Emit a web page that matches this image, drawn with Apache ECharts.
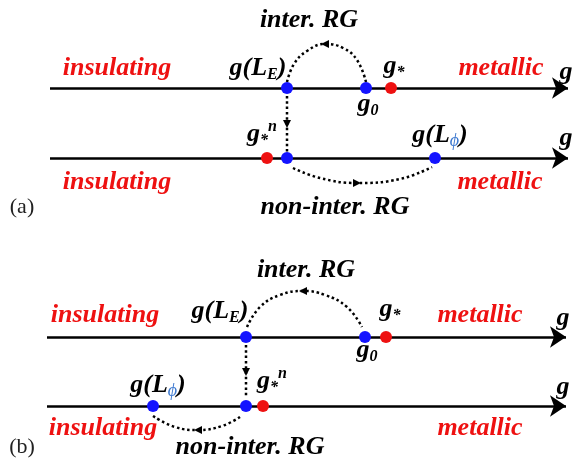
<!DOCTYPE html>
<html><head><meta charset="utf-8">
<script src="https://cdn.jsdelivr.net/npm/echarts@6/dist/echarts.min.js"></script>
<style>html,body{margin:0;padding:0;background:#fff}#c{width:576px;height:464px}</style>
</head><body><div id="c"></div>
<script>
// ---------- data: positions of points along each g axis ----------
const axisNames = ['a-top', 'a-bottom', 'b-top', 'b-bottom'];
const flowPointsG = [[287, 366], [287, 435], [246, 365], [153, 246]];   // blue: g(L_E), g0 / g(L_E), g(Lphi)
const fixedPointsG = [391, 267, 386, 263];                               // red: g*, g*^n
// ---------- layout ----------
const axisY = [88, 158, 337, 406];
const axisFrom = [50, 50, 47, 47];
const axisTo = [568, 568, 566, 566];
const BLUE = '#1414ff', RED = '#ee1111';
const F = '"Liberation Serif", "Times New Roman", serif';

// RG flow paths (dotted) as guide points
const flowPaths = [
  [[287,82],[294,64],[307,51],[325,44],[343,48],[357,60],[366,82]],
  [[293,168],[320,178],[357,183],[400,179],[432,167]],
  [[247,327],[260,307],[280,295],[303,291],[325,295],[347,307],[362,327]],
  [[240,417],[222,426],[198,430],[175,427],[153,416]],
  [[287,96],[287,152]],
  [[246,345],[246,398]]
];
// arrow heads: [x, y, rotation]
const arrowHeads = [[325,44,90],[357,183,-90],[303,291,90],[198,430,90],[287,124,180],[246,372,180]];

const texts = [
  ['{m|inter. RG}', 309, 20],
  ['{r|insulating}', 117, 68],
  ['{m|g(L}{sub|E}{m|)}', 258, 68],
  ['{m|g}{sub|*}', 394, 66],
  ['{r|metallic}', 501, 68],
  ['{m|g}', 566, 72],
  ['{m|g}{sub|0}', 368, 104],
  ['{m|g}{sub|*}{sup|n}', 262, 134],
  ['{m|g(L}{phi|ϕ}{m|)}', 440, 135],
  ['{m|g}', 566, 138],
  ['{r|insulating}', 117, 182],
  ['{r|metallic}', 500, 182],
  ['{m|non-inter. RG}', 335, 207],
  ['{p|(a)}', 22, 207],
  ['{m|inter. RG}', 306, 270],
  ['{r|insulating}', 105, 315],
  ['{m|g(L}{sub|E}{m|)}', 220, 311],
  ['{m|g}{sub|*}', 390, 309],
  ['{r|metallic}', 480, 315],
  ['{m|g}', 563, 318],
  ['{m|g}{sub|0}', 367, 350],
  ['{m|g(L}{phi|ϕ}{m|)}', 158, 385],
  ['{m|g}{sub|*}{sup|n}', 272, 381],
  ['{m|g}', 563, 387],
  ['{r|insulating}', 103, 428],
  ['{r|metallic}', 480, 428],
  ['{m|non-inter. RG}', 250, 447],
  ['{p|(b)}', 22, 447]
];

const base = {fontFamily: F, fontWeight: 'bold', fontStyle: 'italic', fontSize: 26, lineHeight: 30, color: '#000'};
const rich = {
  m: Object.assign({}, base),
  r: Object.assign({}, base, {color: RED}),
  sub: Object.assign({}, base, {fontSize: 16, lineHeight: 15, verticalAlign: 'bottom'}),
  sup: Object.assign({}, base, {fontSize: 16, lineHeight: 15, verticalAlign: 'top'}),
  phi: Object.assign({}, base, {fontSize: 18, lineHeight: 17, verticalAlign: 'bottom', color: '#3f7ad0', fontWeight: 'normal'}),
  p: {fontFamily: F, fontSize: 22, color: '#222', lineHeight: 26}
};

const series = [];
// axes with arrows
series.push({
  type: 'lines', coordinateSystem: 'cartesian2d', silent: true, z: 2,
  symbol: ['none', 'arrow'], symbolSize: [11, 16],
  lineStyle: {color: '#000', width: 2.5, opacity: 1, curveness: 0},
  data: axisY.map((y, i) => ({coords: [[axisFrom[i], y], [axisTo[i], y]]}))
});
// dotted flows
flowPaths.forEach(p => series.push({
  type: 'line', data: p, smooth: p.length > 2 ? 0.45 : false, showSymbol: false, silent: true, z: 3,
  lineStyle: {color: '#000', width: 2.5, type: [2.5, 2.8], opacity: 1}
}));
series.push({
  type: 'scatter', silent: true, z: 4, symbol: 'triangle',
  data: arrowHeads.map(a => ({value: [a[0], a[1]], symbolRotate: a[2]})),
  symbolSize: [8, 8], itemStyle: {color: '#000', opacity: 1}
});
// points
const dots = [];
flowPointsG.forEach((arr, i) => arr.forEach(g => dots.push({value: [g, axisY[i]], itemStyle: {color: BLUE, opacity: 1}})));
fixedPointsG.forEach((g, i) => dots.push({value: [g, axisY[i]], itemStyle: {color: RED, opacity: 1}}));
series.push({type: 'scatter', silent: true, z: 5, symbolSize: 12, itemStyle: {opacity: 1}, data: dots});
// texts
series.push({
  type: 'scatter', silent: true, z: 6, symbolSize: 1, itemStyle: {color: 'rgba(0,0,0,0)', opacity: 1},
  data: texts.map(t => ({value: [t[1], t[2]], label: {formatter: t[0]}})),
  label: {show: true, position: 'inside', align: 'center', verticalAlign: 'middle', opacity: 1, rich: rich}
});

const chart = echarts.init(document.getElementById('c'), null, {renderer: 'canvas'});
chart.setOption({
  animation: false,
  backgroundColor: '#fff',
  grid: {left: 0, right: 0, top: 0, bottom: 0},
  xAxis: {type: 'value', min: 0, max: 576, show: false},
  yAxis: {type: 'value', min: 0, max: 464, inverse: true, show: false},
  series: series
});
</script></body></html>
